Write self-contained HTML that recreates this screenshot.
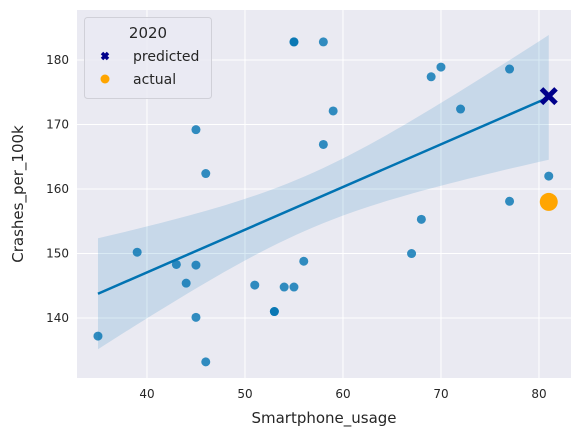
<!DOCTYPE html>
<html><head><meta charset="utf-8"><style>
body{margin:0;background:#fff;font-family:"Liberation Sans","DejaVu Sans",sans-serif}
svg text{font-family:"DejaVu Sans","Liberation Sans",sans-serif;fill:#262626}
</style></head><body>
<svg id="chart" width="582" height="441"></svg>
<script>
const xs=[35,39,43,44,45,45,45,46,46,51,53,53,54,55,55,55,56,58,58,59,67,68,69,70,72,77,77,81];
const ys=[137.2,150.2,148.3,145.4,148.2,140.1,169.2,162.4,133.2,145.1,141,141,144.8,144.8,182.8,182.8,148.8,182.8,166.9,172.1,150,155.3,177.4,178.9,172.4,178.6,158.1,162];
const predX=[81], predY=[174.4];
const actX=[81], actY=[158];
const xTicks=[40,50,60,70,80];
const yTicks=[140,150,160,170,180];
const L=77,R=571,T=10,B=378, xmin=32.86,xmax=83.27,ymin=130.7,ymax=187.75;
const sx=v=>L+(v-xmin)/(xmax-xmin)*(R-L);
const sy=v=>B-(v-ymin)/(ymax-ymin)*(B-T);
const svg=document.getElementById('chart');const NS='http://www.w3.org/2000/svg';
function mk(t,a,p){const e=document.createElementNS(NS,t);for(const k in a)e.setAttribute(k,a[k]);(p||svg).appendChild(e);return e;}
const bg=mk('rect',{x:L,y:T,width:R-L,height:B-T,fill:'#eaeaf2'});


xTicks.forEach(v=>{const g=mk('line',{x1:sx(v),x2:sx(v),y1:T,y2:B,stroke:'#fff','stroke-width':1});


const t=mk('text',{x:sx(v),y:B+20,'text-anchor':'middle','font-size':12});t.textContent=v;

});
yTicks.forEach(v=>{const g=mk('line',{x1:L,x2:R,y1:sy(v),y2:sy(v),stroke:'#fff','stroke-width':1});


const t=mk('text',{x:L-8,y:sy(v)+4,'text-anchor':'end','font-size':12});t.textContent=v;

});
// regression
const n=xs.length,mx=xs.reduce((a,b)=>a+b)/n,my=ys.reduce((a,b)=>a+b)/n;
let sxx=0,sxy=0;xs.forEach((x,i)=>{sxx+=(x-mx)**2;sxy+=(x-mx)*(ys[i]-my);});
const b1=sxy/sxx,b0=my-b1*mx;let sse=0;xs.forEach((x,i)=>{sse+=(ys[i]-b0-b1*x)**2;});
const s=Math.sqrt(sse/(n-2)),tq=1.62;
const x0=Math.min(...xs),x1=Math.max(...xs);const up=[],lo=[];
for(let k=0;k<=50;k++){const x=x0+(x1-x0)*k/50;const f=b0+b1*x;const se=s*Math.sqrt(1/n+(x-mx)**2/sxx);up.push([sx(x),sy(f+tq*se)]);lo.push([sx(x),sy(f-tq*se)]);}
const band=mk('polygon',{points:up.concat(lo.reverse()).map(p=>p.join(',')).join(' '),fill:'#0173b2','fill-opacity':0.15});


xs.forEach((x,i)=>{const c=mk('circle',{cx:sx(x),cy:sy(ys[i]),r:4.5,fill:'#0173b2','fill-opacity':0.8});

});
const rl=mk('line',{x1:sx(x0),y1:sy(b0+b1*x0),x2:sx(x1),y2:sy(b0+b1*x1),stroke:'#0173b2','stroke-width':2.5});


actX.forEach((x,i)=>{const c=mk('circle',{cx:sx(x),cy:sy(actY[i]),r:9,fill:'#ffa500'});

});
predX.forEach((x,i)=>{const px=sx(x),py=sy(predY[i]);const p=mk('path',{d:`M${px-5.5},${py-5.5}L${px+5.5},${py+5.5}M${px+5.5},${py-5.5}L${px-5.5},${py+5.5}`,stroke:'#00008b','stroke-width':5,'stroke-linecap':'square'});

});
const xl=mk('text',{x:(L+R)/2,y:423,'text-anchor':'middle','font-size':15});xl.textContent='Smartphone_usage';


const yl=mk('text',{x:0,y:0,'text-anchor':'middle','font-size':15,transform:`translate(23,${(T+B)/2}) rotate(-90)`});yl.textContent='Crashes_per_100k';


const lg=mk('g',{});


mk('rect',{x:84.5,y:17.5,width:127,height:81,rx:3,fill:'#eaeaf2','fill-opacity':0.8,stroke:'#d0d0d8'},lg);
const lt=mk('text',{x:148,y:38,'text-anchor':'middle','font-size':15},lg);lt.textContent='2020';
mk('path',{d:'M102,53L108,59M108,53L102,59',stroke:'#00008b','stroke-width':3.5},lg);
const t1=mk('text',{x:133,y:61,'font-size':14},lg);t1.textContent='predicted';
mk('circle',{cx:105,cy:79,r:4.5,fill:'#ffa500'},lg);
const t2=mk('text',{x:133,y:84,'font-size':14},lg);t2.textContent='actual';
</script>
</body></html>
